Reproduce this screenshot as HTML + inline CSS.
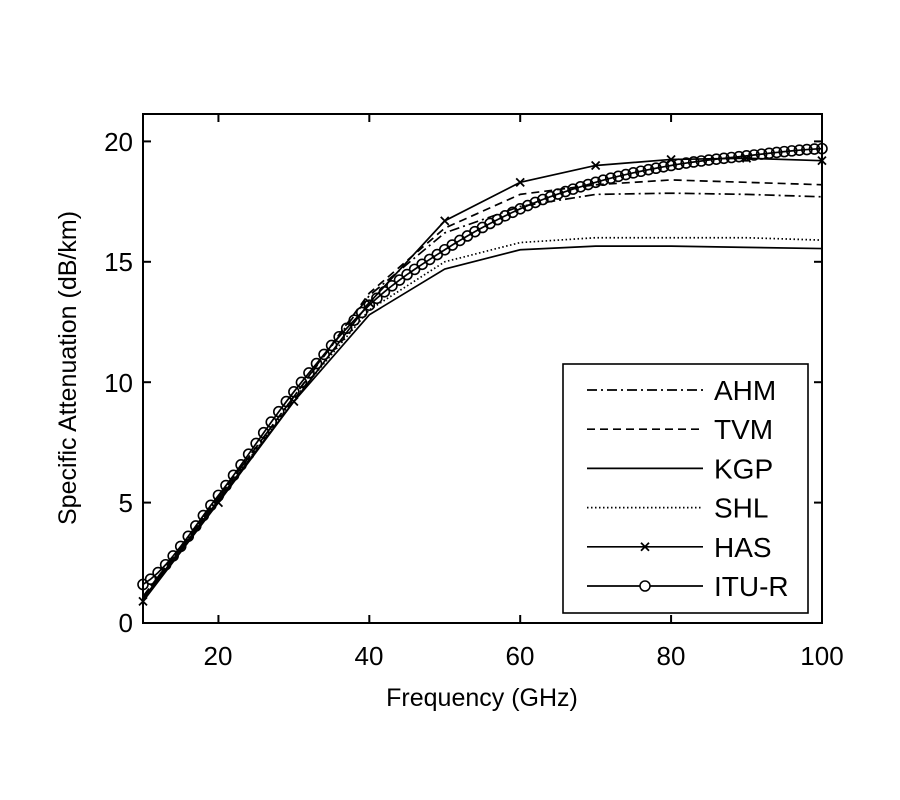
<!DOCTYPE html>
<html><head><style>
html,body{margin:0;padding:0;background:#fff;}
svg{display:block;font-family:"Liberation Sans",Arial,sans-serif;}
</style></head><body>
<svg id="s" width="900" height="800" viewBox="0 0 900 800" xmlns="http://www.w3.org/2000/svg">
<rect width="900" height="800" fill="#fff"/>
<g id="plot"></g>
<rect x="143" y="114" width="679" height="509" fill="none" stroke="#000" stroke-width="2"/>
<g font-size="26" fill="#000" text-anchor="middle">
<text x="218" y="665">20</text><text x="369" y="665">40</text><text x="520" y="665">60</text><text x="671" y="665">80</text><text x="822" y="665">100</text>
</g>
<g font-size="26" fill="#000" text-anchor="end">
<text x="133" y="632">0</text><text x="133" y="512">5</text><text x="133" y="392">10</text><text x="133" y="271">15</text><text x="133" y="151">20</text>
</g>
<text x="482" y="706" font-size="25" text-anchor="middle" fill="#000">Frequency (GHz)</text>
<text transform="translate(76,368) rotate(-90)" font-size="25" text-anchor="middle" fill="#000">Specific Attenuation (dB/km)</text>
<g id="leg"></g>
</svg>
<script>
var NS="http://www.w3.org/2000/svg";
function X(f){return 143+(f-10)*7.544;}
function Y(v){return 623-v*24.08;}
function el(p,t,a){var e=document.createElementNS(NS,t);for(var k in a)e.setAttribute(k,a[k]);p.appendChild(e);return e;}
var g=document.getElementById('plot');
[20,40,60,80].forEach(function(f){el(g,'line',{x1:X(f),x2:X(f),y1:623,y2:615,stroke:'#000','stroke-width':2});el(g,'line',{x1:X(f),x2:X(f),y1:114,y2:122,stroke:'#000','stroke-width':2});});
[5,10,15,20].forEach(function(v){el(g,'line',{x1:143,x2:151,y1:Y(v),y2:Y(v),stroke:'#000','stroke-width':2});el(g,'line',{x1:822,x2:814,y1:Y(v),y2:Y(v),stroke:'#000','stroke-width':2});});
var fs=[10,20,30,40,50,60,70,80,90,100];
var D={
AHM:[1.1,5.2,9.4,13.6,16.2,17.3,17.8,17.85,17.8,17.7],
TVM:[1.1,5.2,9.4,13.7,16.4,17.8,18.2,18.4,18.3,18.2],
KGP:[1.0,5.1,9.2,12.8,14.7,15.5,15.65,15.65,15.6,15.55],
SHL:[1.0,5.1,9.3,13.0,15.0,15.8,16.0,16.0,16.0,15.9],
HAS:[0.9,5.0,9.2,13.3,16.7,18.3,19.0,19.25,19.3,19.2],
ITU:[1.6,5.3,9.6,13.2,15.5,17.2,18.3,19.0,19.4,19.7]};
var sty={AHM:'10,4,2,4',TVM:'8,5',KGP:'',SHL:'1.5,2.5',HAS:'',ITU:''};
function pts(a){return fs.map(function(f,i){return X(f)+','+Y(a[i]);}).join(' ');}
['AHM','TVM','KGP','SHL','HAS'].forEach(function(k){el(g,'polyline',{points:pts(D[k]),fill:'none',stroke:'#000','stroke-width':1.7,'stroke-dasharray':sty[k]});});
D.HAS.forEach(function(v,i){var x=X(fs[i]),y=Y(v);el(g,'path',{d:'M'+(x-4)+' '+(y-4)+'L'+(x+4)+' '+(y+4)+'M'+(x-4)+' '+(y+4)+'L'+(x+4)+' '+(y-4),stroke:'#000','stroke-width':1.8});});
// smooth ITU (Catmull-Rom)
function cr(a,f){var i=Math.min(8,Math.floor((f-10)/10));var t=(f-fs[i])/10;
 var p0=a[Math.max(0,i-1)],p1=a[i],p2=a[i+1],p3=a[Math.min(9,i+2)];
 return 0.5*((2*p1)+(-p0+p2)*t+(2*p0-5*p1+4*p2-p3)*t*t+(-p0+3*p1-3*p2+p3)*t*t*t);}
var ip=[];for(var f=10;f<=100;f+=1)ip.push([X(f),Y(cr(D.ITU,f))]);
el(g,'polyline',{points:ip.map(function(p){return p.join(',');}).join(' '),fill:'none',stroke:'#000','stroke-width':1.7});
ip.forEach(function(p){el(g,'circle',{cx:p[0],cy:p[1],r:5,fill:'none',stroke:'#000','stroke-width':1.6});});
var L=document.getElementById('leg');
el(L,'rect',{x:563,y:364,width:245,height:249,fill:'#fff',stroke:'#000','stroke-width':1.6});
var names=[['AHM','AHM'],['TVM','TVM'],['KGP','KGP'],['SHL','SHL'],['HAS','HAS'],['ITU','ITU-R']];
names.forEach(function(n,i){var y=390+i*39.2;
 el(L,'line',{x1:587,x2:703,y1:y,y2:y,stroke:'#000','stroke-width':1.7,'stroke-dasharray':sty[n[0]]});
 if(n[0]=='HAS')el(L,'path',{d:'M641 '+(y-4)+'L649 '+(y+4)+'M641 '+(y+4)+'L649 '+(y-4),stroke:'#000','stroke-width':1.8});
 if(n[0]=='ITU')el(L,'circle',{cx:645,cy:y,r:5,fill:'#fff',stroke:'#000','stroke-width':1.5});
 var t=el(L,'text',{x:714,y:y+10,'font-size':28,fill:'#000'});t.textContent=n[1];});
</script>
</body></html>
